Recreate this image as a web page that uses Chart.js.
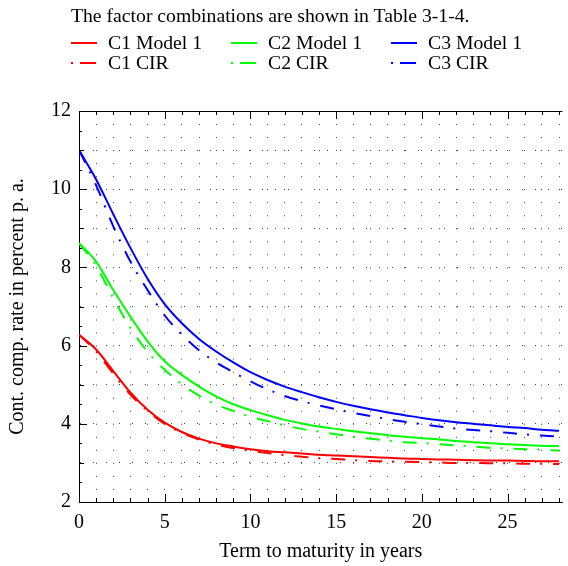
<!DOCTYPE html>
<html lang="en">
<head>
    <meta charset="UTF-8">
    <title>Term structure: Model 1 vs CIR</title>
    <script src="https://cdnjs.cloudflare.com/ajax/libs/Chart.js/4.4.1/chart.umd.min.js"></script>
    <style>
        body { margin: 0; background: #fff; }
        #wrap { position: relative; width: 568px; height: 566px; }
        #legend {
            position: absolute; left: 0; top: 0; width: 568px; height: 80px;
            font-family: "Liberation Serif", "DejaVu Serif", serif; font-size: 19.7px; color: #000;
        }
        #legend .title { position: absolute; left: 71px; top: 4px; white-space: nowrap; }
        #legend .item { position: absolute; height: 20px; white-space: nowrap; }
        #legend .item svg { position: absolute; left: 0; top: 9px; }
        #legend .item span { position: absolute; left: 37px; top: -2px; }
    </style>
</head>
<body>
    <div id="wrap">
        <canvas id="rateChart"></canvas>
        <div id="legend"></div>
    </div>

    <script>
        // term to maturity in years
        const terms = [0, 1, 2, 3, 4, 5, 6, 7, 8, 9, 10, 11, 12, 13, 14, 15, 16, 17, 18, 19, 20, 21, 22, 23, 24, 25, 26, 27, 28];

        const c1Model1 = [6.28, 5.90, 5.35, 4.80, 4.36, 4.03, 3.79, 3.62, 3.50, 3.42, 3.35, 3.30, 3.27, 3.24, 3.21, 3.19, 3.17, 3.15, 3.13, 3.11, 3.10, 3.09, 3.08, 3.07, 3.06, 3.06, 3.05, 3.04, 3.04];
        const c2Model1 = [8.62, 8.15, 7.42, 6.74, 6.11, 5.60, 5.25, 4.95, 4.70, 4.50, 4.35, 4.22, 4.10, 4.01, 3.93, 3.87, 3.81, 3.76, 3.71, 3.67, 3.63, 3.60, 3.56, 3.53, 3.50, 3.48, 3.46, 3.44, 3.43];
        const c3Model1 = [11.0, 10.25, 9.36, 8.50, 7.71, 7.06, 6.57, 6.17, 5.85, 5.57, 5.32, 5.12, 4.95, 4.81, 4.68, 4.56, 4.46, 4.37, 4.29, 4.22, 4.15, 4.09, 4.04, 4.00, 3.96, 3.92, 3.89, 3.85, 3.82];

        const c1Cir = [6.28, 5.85, 5.28, 4.75, 4.33, 4.00, 3.77, 3.60, 3.47, 3.38, 3.31, 3.25, 3.20, 3.16, 3.12, 3.10, 3.07, 3.05, 3.04, 3.03, 3.02, 3.01, 3.00, 3.00, 2.99, 2.99, 2.98, 2.98, 2.97];
        const c2Cir = [8.62, 8.04, 7.21, 6.45, 5.84, 5.38, 5.01, 4.72, 4.49, 4.33, 4.18, 4.07, 3.96, 3.87, 3.80, 3.73, 3.67, 3.62, 3.57, 3.53, 3.51, 3.48, 3.45, 3.42, 3.39, 3.37, 3.35, 3.34, 3.31];
        const c3Cir = [11.0, 10.1, 9.05, 8.15, 7.42, 6.77, 6.28, 5.88, 5.57, 5.32, 5.09, 4.88, 4.71, 4.58, 4.47, 4.37, 4.28, 4.20, 4.12, 4.05, 3.99, 3.93, 3.88, 3.84, 3.81, 3.77, 3.73, 3.70, 3.67];

        const xTicks = [0, 1, 2, 3, 4, 5, 6, 7, 8, 9, 10, 11, 12, 13, 14, 15, 16, 17, 18, 19, 20, 21, 22, 23, 24, 25, 26, 27, 28];
        const yTicks = [2, 3, 4, 5, 6, 7, 8, 9, 10, 11, 12];

        const serif = '"Liberation Serif", "DejaVu Serif", serif';
        const cirDash = [14, 10, 2, 11];

        function pts(values) {
            return terms.map((t, i) => ({ x: t, y: values[i] }));
        }

        function series(label, values, color, dashed) {
            return {
                label: label,
                data: pts(values),
                borderColor: color,
                backgroundColor: color,
                borderWidth: 2,
                borderDash: dashed ? cirDash : [],
                pointRadius: 0,
                cubicInterpolationMode: 'monotone',
                fill: false
            };
        }

        // inward tick marks and the top frame line
        const frameTicks = {
            id: 'frameTicks',
            afterDraw(chart) {
                const { ctx, chartArea: a } = chart;
                const xs = chart.scales.x, ys = chart.scales.y;
                ctx.save();
                ctx.strokeStyle = '#000';
                ctx.lineWidth = 1;
                ctx.beginPath();
                ctx.moveTo(a.left, a.top + 0.5);
                ctx.lineTo(a.right, a.top + 0.5);
                xTicks.forEach(v => {
                    const px = Math.round(xs.getPixelForValue(v)) + 0.5;
                    const len = v % 5 === 0 ? 8 : 4;
                    ctx.moveTo(px, a.bottom);
                    ctx.lineTo(px, a.bottom - len);
                    ctx.moveTo(px, a.top);
                    ctx.lineTo(px, a.top + len);
                });
                for (let v = 2; v <= 12; v += 0.5) {
                    const py = Math.round(ys.getPixelForValue(v)) + 0.5;
                    const len = v % 2 === 0 ? 8 : (v % 1 === 0 ? 5 : 3);
                    ctx.moveTo(a.left, py);
                    ctx.lineTo(a.left + len, py);
                }
                ctx.stroke();
                ctx.restore();
            }
        };

        function buildLegend(chart) {
            const box = document.getElementById('legend');
            box.innerHTML = '<div class="title">The factor combinations are shown in Table 3-1-4.</div>';
            const colX = [71, 231, 391];
            const rowY = [33, 53];
            chart.data.datasets.forEach((ds, i) => {
                const item = document.createElement('div');
                item.className = 'item';
                item.style.left = colX[i % 3] + 'px';
                item.style.top = rowY[Math.floor(i / 3)] + 'px';
                const dash = ds.borderDash.length ? 'stroke-dasharray="2 7 16 10"' : '';
                item.innerHTML = '<svg width="26" height="2"><line x1="0" y1="1" x2="26" y2="1" stroke="' +
                    ds.borderColor + '" stroke-width="2" ' + dash + '/></svg><span>' + ds.label + '</span>';
                box.appendChild(item);
            });
        }

        function initChart() {
            const ctx = document.getElementById('rateChart').getContext('2d');

            const chart = new Chart(ctx, {
                type: 'line',
                data: {
                    datasets: [
                        series('C1 Model 1', c1Model1, '#ff0000', false),
                        series('C2 Model 1', c2Model1, '#00ff00', false),
                        series('C3 Model 1', c3Model1, '#0000ff', false),
                        series('C1 CIR', c1Cir, '#ff0000', true),
                        series('C2 CIR', c2Cir, '#00ff00', true),
                        series('C3 CIR', c3Cir, '#0000ff', true)
                    ]
                },
                options: {
                    responsive: true,
                    maintainAspectRatio: false,
                    animation: false,
                    layout: { padding: { top: 111, left: 0, right: 0, bottom: 0 } },
                    scales: {
                        x: {
                            type: 'linear',
                            min: 0,
                            max: 28.2,
                            afterBuildTicks: scale => { scale.ticks = xTicks.map(v => ({ value: v })); },
                            afterFit: scale => { scale.height = 64; },
                            ticks: {
                                autoSkip: false,
                                maxRotation: 0,
                                padding: 9,
                                color: '#000',
                                font: { family: serif, size: 20 },
                                callback: v => (v % 5 === 0 ? String(v) : '')
                            },
                            grid: { color: '#444', lineWidth: 1, drawTicks: false },
                            border: { display: true, color: '#000', width: 1, dash: [1, 12.03] },
                            title: {
                                display: true,
                                text: 'Term to maturity in years',
                                color: '#000',
                                font: { family: serif, size: 20 },
                                padding: { top: 4, bottom: 2 }
                            }
                        },
                        y: {
                            type: 'linear',
                            min: 2,
                            max: 12,
                            afterBuildTicks: scale => { scale.ticks = yTicks.map(v => ({ value: v })); },
                            afterFit: scale => { scale.width = 79; },
                            ticks: {
                                autoSkip: false,
                                padding: 8,
                                color: '#000',
                                font: { family: serif, size: 20 },
                                callback: v => (v % 2 === 0 ? String(v) : '')
                            },
                            grid: { color: '#444', lineWidth: 1, drawTicks: false },
                            border: { display: true, color: '#000', width: 1, dash: [1, 12] },
                            title: {
                                display: true,
                                text: 'Cont. comp. rate in percent p. a.',
                                color: '#000',
                                font: { family: serif, size: 20 },
                                padding: { top: 6, bottom: 4 }
                            }
                        }
                    },
                    plugins: {
                        legend: { display: false },
                        tooltip: { enabled: false }
                    }
                },
                plugins: [frameTicks]
            });

            buildLegend(chart);
        }

        function checkChartAndInit() {
            if (typeof Chart === 'undefined') {
                setTimeout(checkChartAndInit, 100);
                return;
            }
            initChart();
        }

        document.addEventListener('DOMContentLoaded', checkChartAndInit);
    </script>
</body>
</html>
